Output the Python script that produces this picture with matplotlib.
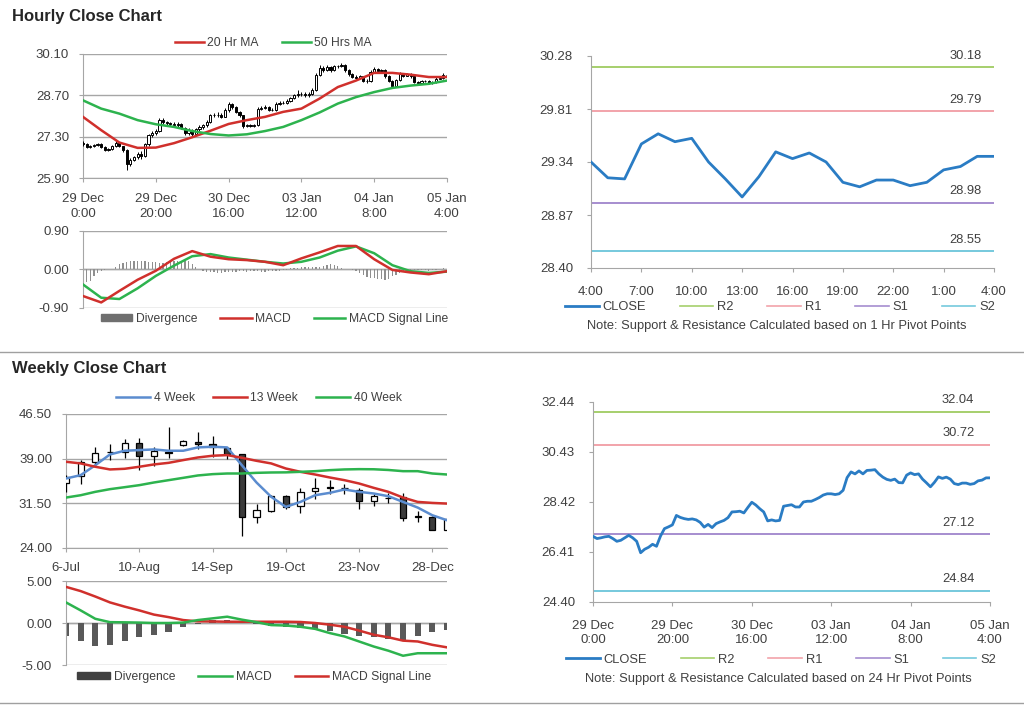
import numpy as np
import matplotlib
matplotlib.use("Agg")
import matplotlib.pyplot as plt
from matplotlib.lines import Line2D
from matplotlib.patches import Patch

plt.rcParams['font.family'] = ['Liberation Sans', 'DejaVu Sans']

# ---------------- hourly data (29 Dec 0:00 -> 05 Jan 4:00) ----------------
hourly_open = [27.10, 27.04, 26.95, 26.98, 27.02, 27.04, 26.95, 26.84, 26.88, 26.98,
               27.08, 26.98, 26.84, 26.38, 26.52, 26.60, 26.72, 26.64, 27.05, 27.35,
               27.42, 27.50, 27.88, 27.80, 27.75, 27.70, 27.74, 27.72, 27.60, 27.41,
               27.52, 27.39, 27.55, 27.62, 27.68, 27.79, 28.02, 28.03, 28.05, 27.98,
               28.20, 28.41, 28.30, 28.15, 28.02, 27.66, 27.70, 27.66, 27.68, 28.25,
               28.28, 28.31, 28.22, 28.22, 28.42, 28.45, 28.45, 28.52, 28.60, 28.70,
               28.75, 28.75, 28.72, 28.75, 28.89, 29.40, 29.63, 29.55, 29.67, 29.55,
               29.69, 29.70, 29.72, 29.55, 29.42, 29.33, 29.29, 29.34, 29.20, 29.19,
               29.50, 29.59, 29.52, 29.55, 29.34, 29.19, 29.03, 29.21, 29.43, 29.37,
               29.42, 29.34, 29.16, 29.12, 29.18, 29.18, 29.13, 29.16, 29.27, 29.30,
               29.39]
hourly_high = [27.14, 27.08, 27.03, 27.06, 27.08, 27.07, 26.99, 26.93, 27.02, 27.14,
               27.12, 27.00, 26.88, 26.58, 26.66, 26.78, 26.80, 27.10, 27.40, 27.48,
               27.56, 27.94, 27.92, 27.84, 27.80, 27.78, 27.78, 27.75, 27.64, 27.58,
               27.55, 27.60, 27.68, 27.74, 27.85, 28.08, 28.10, 28.12, 28.09, 28.26,
               28.48, 28.45, 28.34, 28.18, 28.05, 27.74, 27.73, 27.72, 28.32, 28.34,
               28.38, 28.35, 28.28, 28.48, 28.50, 28.52, 28.58, 28.66, 28.76, 28.88,
               28.82, 28.80, 28.80, 28.95, 29.46, 29.72, 29.68, 29.72, 29.70, 29.74,
               29.74, 29.78, 29.75, 29.58, 29.46, 29.38, 29.40, 29.37, 29.24, 29.56,
               29.66, 29.62, 29.60, 29.58, 29.38, 29.22, 29.26, 29.48, 29.46, 29.46,
               29.45, 29.37, 29.20, 29.22, 29.22, 29.21, 29.20, 29.31, 29.34, 29.46,
               29.45]
hourly_low = [26.98, 26.90, 26.92, 26.95, 26.97, 26.90, 26.80, 26.80, 26.85, 26.95,
              26.94, 26.78, 26.18, 26.30, 26.46, 26.55, 26.56, 26.60, 27.00, 27.30,
              27.36, 27.46, 27.74, 27.70, 27.66, 27.66, 27.64, 27.55, 27.35, 27.36,
              27.32, 27.35, 27.50, 27.57, 27.64, 27.75, 27.95, 27.98, 27.92, 27.95,
              28.15, 28.24, 28.10, 27.96, 27.60, 27.62, 27.62, 27.62, 27.65, 28.20,
              28.24, 28.16, 28.16, 28.18, 28.38, 28.40, 28.42, 28.48, 28.56, 28.66,
              28.68, 28.66, 28.66, 28.70, 28.85, 29.36, 29.50, 29.52, 29.50, 29.52,
              29.64, 29.66, 29.50, 29.36, 29.28, 29.24, 29.26, 29.15, 29.12, 29.16,
              29.46, 29.48, 29.48, 29.30, 29.14, 28.98, 29.00, 29.18, 29.32, 29.34,
              29.30, 29.12, 29.08, 29.10, 29.14, 29.10, 29.10, 29.13, 29.24, 29.27,
              29.35]
hourly_close = [27.04, 26.95, 26.98, 27.02, 27.04, 26.95, 26.84, 26.88, 26.98, 27.08,
                26.98, 26.84, 26.38, 26.52, 26.60, 26.72, 26.64, 27.05, 27.35, 27.42,
                27.50, 27.88, 27.80, 27.75, 27.72, 27.74, 27.70, 27.60, 27.41, 27.52,
                27.39, 27.55, 27.62, 27.68, 27.79, 28.02, 28.03, 28.05, 27.98, 28.20,
                28.41, 28.30, 28.15, 28.02, 27.66, 27.70, 27.66, 27.68, 28.25, 28.28,
                28.31, 28.22, 28.22, 28.42, 28.45, 28.45, 28.52, 28.60, 28.70, 28.75,
                28.75, 28.72, 28.75, 28.89, 29.40, 29.63, 29.55, 29.67, 29.55, 29.69,
                29.70, 29.72, 29.55, 29.42, 29.33, 29.29, 29.34, 29.20, 29.19, 29.50,
                29.59, 29.52, 29.55, 29.34, 29.19, 29.03, 29.21, 29.43, 29.37, 29.42,
                29.34, 29.16, 29.12, 29.18, 29.18, 29.13, 29.16, 29.27, 29.30, 29.39,
                29.39]
hourly_div = [-0.30, -0.30, -0.27, -0.16, -0.08, -0.04, -0.02, 0.00, 0.02, 0.06,
              0.12, 0.15, 0.18, 0.19, 0.20, 0.19, 0.20, 0.19, 0.18, 0.17,
              0.17, 0.16, 0.15, 0.17, 0.18, 0.19, 0.20, 0.21, 0.21, 0.20,
              0.12, 0.05, 0.02, -0.03, -0.05, -0.06, -0.07, -0.08, -0.08, -0.07,
              -0.06, -0.05, -0.05, -0.04, -0.04, -0.05, -0.04, -0.03, -0.04, -0.05,
              -0.05, -0.04, -0.04, -0.03, -0.03, -0.02, -0.01, 0.03, 0.04, 0.04,
              0.05, 0.06, 0.05, 0.06, 0.07, 0.06, 0.08, 0.11, 0.12, 0.10,
              0.08, 0.04, 0.01, 0.00, -0.01, -0.03, -0.08, -0.13, -0.17, -0.19,
              -0.21, -0.22, -0.23, -0.24, -0.22, -0.16, -0.12, -0.08, -0.05, -0.04,
              -0.03, -0.02, -0.02, -0.01, -0.02, -0.03, -0.02, -0.01, 0.02, 0.03,
              0.02]

# lines read every 5 hours
line_hours = [0, 5, 10, 15, 20, 25, 30, 35, 40, 45, 50, 55, 60, 65, 70, 75, 80, 85, 90, 95, 100]
ma_20hr = [27.97, 27.52, 27.10, 26.92, 26.93, 27.08, 27.28, 27.50, 27.73, 27.86, 27.97,
           28.14, 28.25, 28.59, 28.98, 29.20, 29.46, 29.46, 29.40, 29.32, 29.32]
ma_50hr = [28.53, 28.25, 28.08, 27.86, 27.72, 27.63, 27.49, 27.39, 27.34, 27.38, 27.49,
           27.63, 27.86, 28.12, 28.42, 28.64, 28.81, 28.95, 29.03, 29.09, 29.20]
macd_hourly = [-0.62, -0.77, -0.50, -0.24, -0.03, 0.25, 0.43, 0.30, 0.24, 0.22, 0.18,
               0.10, 0.26, 0.40, 0.55, 0.55, 0.24, -0.01, -0.07, -0.11, -0.04]
signal_hourly = [-0.35, -0.66, -0.69, -0.44, -0.15, 0.09, 0.31, 0.36, 0.28, 0.23, 0.18,
                 0.14, 0.18, 0.28, 0.44, 0.54, 0.38, 0.10, -0.04, -0.08, -0.05]

hourly_tick_hours = [0, 20, 40, 60, 80, 100]
hourly_tick_labels = ['29 Dec\n0:00', '29 Dec\n20:00', '30 Dec\n16:00',
                      '03 Jan\n12:00', '04 Jan\n8:00', '05 Jan\n4:00']
last_day_labels = ['4:00', '7:00', '10:00', '13:00', '16:00', '19:00', '22:00', '1:00', '4:00']

pivot_names = ['R2', 'R1', 'S1', 'S2']
pivot_1hr = [30.18, 29.79, 28.98, 28.55]
pivot_24hr = [32.04, 30.72, 27.12, 24.84]

# ---------------- weekly data (6-Jul -> 4-Jan) ----------------
week_open = [34.94, 36.06, 38.48, 40.20, 40.16, 41.67, 39.43, 40.05, 41.28, 41.84,
             41.45, 40.72, 39.77, 29.20, 30.20, 32.70, 31.01, 33.54, 34.20, 34.15,
             33.70, 31.85, 32.40, 32.60, 29.30, 29.20, 26.97]
week_high = [36.20, 38.76, 40.89, 41.45, 42.24, 42.40, 40.89, 44.37, 42.10, 43.53,
             42.80, 41.00, 39.77, 31.35, 32.90, 32.90, 34.00, 35.67, 35.50, 34.80,
             34.00, 33.15, 33.20, 33.26, 30.20, 29.30, 29.10]
week_low = [33.40, 34.83, 37.75, 38.76, 39.04, 37.10, 37.75, 39.04, 41.10, 40.55,
            39.30, 39.00, 25.96, 28.26, 30.05, 30.50, 29.95, 32.30, 33.10, 33.10,
            30.60, 31.00, 31.50, 28.50, 28.30, 26.97, 26.97]
week_close = [35.84, 38.48, 39.99, 40.12, 41.67, 39.43, 40.33, 39.95, 41.95, 41.45,
              40.89, 39.77, 29.20, 30.30, 32.70, 30.90, 33.43, 34.10, 34.12, 34.05,
              31.85, 32.70, 32.45, 29.05, 29.22, 26.97, 28.94]
ma_4wk = [35.67, 36.23, 37.90, 39.71, 40.33, 40.44, 40.55, 40.33, 40.33, 40.89,
          41.00, 40.89, 37.90, 35.00, 32.60, 30.90, 31.74, 32.86, 33.26, 33.82,
          33.43, 33.15, 32.70, 31.74, 30.79, 29.50, 28.66]
ma_13wk = [38.48, 38.20, 37.64, 37.19, 37.30, 37.64, 38.03, 38.30, 38.76, 39.20,
           39.49, 39.60, 39.15, 38.64, 38.20, 37.35, 36.79, 36.34, 35.84, 35.39,
           34.83, 34.10, 33.43, 32.47, 31.74, 31.57, 31.46]
ma_40wk = [32.47, 32.86, 33.43, 33.88, 34.21, 34.55, 35.00, 35.39, 35.78, 36.18,
           36.40, 36.51, 36.51, 36.62, 36.68, 36.70, 36.79, 36.90, 37.07, 37.19,
           37.24, 37.22, 37.10, 36.90, 36.90, 36.51, 36.34]
macd_weekly = [2.45, 1.50, 0.50, 0.10, 0.08, 0.05, 0.00, 0.00, 0.05, 0.35,
               0.55, 0.75, 0.40, 0.10, -0.25, -0.30, -0.45, -0.70, -1.20, -1.60,
               -2.20, -2.80, -3.30, -3.90, -3.60, -3.60, -3.60]
signal_weekly = [4.30, 3.80, 3.15, 2.45, 1.95, 1.50, 1.00, 0.70, 0.35, 0.20,
                 0.18, 0.15, 0.15, 0.15, 0.15, 0.15, 0.12, 0.00, -0.20, -0.45,
                 -0.90, -1.40, -1.70, -2.10, -2.20, -2.60, -2.90]
div_weekly = [-1.6, -2.2, -2.7, -2.6, -2.2, -1.7, -1.4, -1.1, -0.5, -0.1,
              0.3, 0.3, 0.1, -0.1, -0.4, -0.5, -0.6, -0.7, -1.0, -1.3,
              -1.5, -1.7, -1.9, -2.1, -1.5, -1.1, -0.8]
week_tick_idx = [0, 5, 10, 15, 20, 25]
week_tick_labels = ['6-Jul', '10-Aug', '14-Sep', '19-Oct', '23-Nov', '28-Dec']

# ---------------- style ----------------
TXT = '#404040'
GRID = '#a6a6a6'
RED = '#d0302c'
GREEN = '#2db34e'
BLUE4 = '#5b8ccf'
CLOSE_BLUE = '#2a7cc4'
PIVOT_COLORS = ['#a6cf6c', '#f2a3aa', '#a68dcf', '#76c9dd']
FS = 9.5
LFS = 8.7
RFS = 9.3

fig = plt.figure(figsize=(10.24, 7.06), dpi=100)


def px_axes(left, top, right, bottom):
    return fig.add_axes([left / 1024, 1 - bottom / 706, (right - left) / 1024, (bottom - top) / 706])


def style(ax, grid=True):
    ax.spines['top'].set_visible(False)
    ax.spines['right'].set_visible(False)
    ax.spines['left'].set_color(GRID)
    ax.spines['bottom'].set_color(GRID)
    ax.tick_params(colors=TXT, labelsize=FS, length=3, color=GRID)
    ax.tick_params(axis='y', pad=7)
    ax.tick_params(axis='x', pad=8)
    if grid:
        ax.yaxis.grid(True, color=GRID, lw=1)
        ax.set_axisbelow(True)


def candles(ax, x, o, h, l, c, width, lw, down_color):
    x = np.asarray(x)
    o, h, l, c = map(np.asarray, (o, h, l, c))
    ax.vlines(x, l, h, color='black', lw=lw, zorder=3)
    up = c >= o
    ax.bar(x[up], c[up] - o[up], width, bottom=o[up], color='white',
           edgecolor='black', lw=lw, zorder=4)
    ax.bar(x[~up], o[~up] - c[~up], width, bottom=c[~up], color=down_color,
           edgecolor='black', lw=lw, zorder=4)


def fmt_yticks(ax, ticks):
    ax.set_yticks(ticks)
    ax.set_yticklabels([f'{t:.2f}' for t in ticks])


hours = np.arange(len(hourly_close))
weeks = np.arange(len(week_close))

# ---------------- titles & separators ----------------
fig.text(12 / 1024, 1 - 16 / 706, 'Hourly Close Chart', fontsize=12, fontweight='bold',
         color='#262626', va='center')
fig.text(12 / 1024, 1 - 369 / 706, 'Weekly Close Chart', fontsize=12, fontweight='bold',
         color='#262626', va='center')
for yy in (352, 703):
    fig.add_artist(Line2D([0, 1], [1 - yy / 706] * 2, color='#a0a0a0', lw=1))

# ---------------- hourly candles ----------------
ax1 = px_axes(83, 54, 447, 178)
style(ax1)
candles(ax1, hours, hourly_open, hourly_high, hourly_low, hourly_close, 0.6, 0.7, 'black')
ax1.plot(line_hours, ma_20hr, color=RED, lw=1.8, zorder=5)
ax1.plot(line_hours, ma_50hr, color=GREEN, lw=1.8, zorder=5)
ax1.set_xlim(0, 100)
ax1.set_ylim(25.90, 30.10)
fmt_yticks(ax1, [25.90, 27.30, 28.70, 30.10])
ax1.set_xticks(hourly_tick_hours)
ax1.set_xticklabels(hourly_tick_labels, linespacing=1.25)
fig.legend([Line2D([], [], color=RED, lw=1.8), Line2D([], [], color=GREEN, lw=1.8)],
           ['20 Hr MA', '50 Hrs MA'], loc='center', bbox_to_anchor=(0.267, 1 - 43 / 706),
           ncol=2, frameon=False, fontsize=LFS, labelcolor=TXT, handlelength=2.4,
           handletextpad=0.3, columnspacing=1.9)

# ---------------- hourly MACD ----------------
ax2 = px_axes(83, 231, 447, 308)
style(ax2)
ax2.bar(hours, hourly_div, 0.35, color='#8f8f8f', zorder=2)
ax2.plot(line_hours, macd_hourly, color=RED, lw=1.8, zorder=4)
ax2.plot(line_hours, signal_hourly, color=GREEN, lw=1.8, zorder=3)
ax2.axhline(0, color=GRID, lw=1, zorder=1)
ax2.set_xlim(0, 100)
ax2.set_ylim(-0.90, 0.90)
fmt_yticks(ax2, [-0.90, 0.00, 0.90])
ax2.set_xticks([])
ax2.spines['bottom'].set_visible(False)
fig.legend([Patch(color='#6f6f6f'), Line2D([], [], color=RED, lw=1.8),
            Line2D([], [], color=GREEN, lw=1.8)],
           ['Divergence', 'MACD', 'MACD Signal Line'], loc='center',
           bbox_to_anchor=(0.268, 1 - 319 / 706), ncol=3, frameon=False, fontsize=LFS,
           labelcolor=TXT, handlelength=2.6, handleheight=0.5, handletextpad=0.3,
           columnspacing=1.9)

# ---------------- last 24 hours with 1 hr pivots ----------------
last_day = hourly_close[-25:]
ax3 = px_axes(591, 56, 994, 268)
style(ax3, grid=False)
handles = [Line2D([], [], color=CLOSE_BLUE, lw=2)]
for name, lvl, col in zip(pivot_names, pivot_1hr, PIVOT_COLORS):
    ax3.axhline(lvl, color=col, lw=1.4, zorder=2)
    ax3.annotate(f'{lvl:.2f}', xy=(0.93, lvl), xycoords=ax3.get_yaxis_transform(),
                 xytext=(0, 4), textcoords='offset points', ha='center', va='bottom',
                 fontsize=RFS, color=TXT)
    handles.append(Line2D([], [], color=col, lw=1.2))
ax3.plot(np.arange(len(last_day)), last_day, color=CLOSE_BLUE, lw=2, zorder=4)
ax3.set_xlim(0, 24)
ax3.set_ylim(28.40, 30.28)
fmt_yticks(ax3, [28.40, 28.87, 29.34, 29.81, 30.28])
ax3.set_xticks(np.arange(0, 25, 3))
ax3.set_xticklabels(last_day_labels)
ax3.tick_params(axis='x', pad=10)
ax3.tick_params(axis='y', pad=10)
fig.legend(handles, ['CLOSE'] + pivot_names, loc='center',
           bbox_to_anchor=(0.762, 1 - 307 / 706), ncol=5, frameon=False, fontsize=RFS,
           labelcolor=TXT, handlelength=2.6, handletextpad=0.3, columnspacing=2.6)
fig.text(0.759, 1 - 326 / 706, 'Note: Support & Resistance Calculated based on 1 Hr Pivot Points',
         ha='center', va='center', fontsize=RFS, color=TXT)

# ---------------- weekly candles ----------------
ax4 = px_axes(66, 414, 447, 548)
style(ax4)
candles(ax4, weeks, week_open, week_high, week_low, week_close, 0.42, 0.9, '#3a3a3a')
ax4.plot(weeks, ma_4wk, color=BLUE4, lw=1.8, zorder=5)
ax4.plot(weeks, ma_13wk, color=RED, lw=1.8, zorder=5)
ax4.plot(weeks, ma_40wk, color=GREEN, lw=1.8, zorder=5)
ax4.set_xlim(0, 26)
ax4.set_ylim(24.00, 46.50)
fmt_yticks(ax4, [24.00, 31.50, 39.00, 46.50])
ax4.set_xticks(week_tick_idx)
ax4.set_xticklabels(week_tick_labels)
ax4.tick_params(axis='x', pad=7)
fig.legend([Line2D([], [], color=c, lw=1.8) for c in (BLUE4, RED, GREEN)],
           ['4 Week', '13 Week', '40 Week'], loc='center',
           bbox_to_anchor=(0.253, 1 - 398 / 706), ncol=3, frameon=False, fontsize=LFS,
           labelcolor=TXT, handlelength=2.8, handletextpad=0.3, columnspacing=1.5)

# ---------------- weekly MACD ----------------
ax5 = px_axes(66, 581, 447, 665)
style(ax5)
ax5.bar(weeks, div_weekly, 0.42, color='#595959', zorder=2)
ax5.plot(weeks, macd_weekly, color=GREEN, lw=1.8, zorder=4)
ax5.plot(weeks, signal_weekly, color=RED, lw=1.8, zorder=3)
ax5.axhline(0, color=GRID, lw=1, zorder=1)
ax5.set_xlim(0, 26)
ax5.set_ylim(-5, 5)
fmt_yticks(ax5, [-5.00, 0.00, 5.00])
ax5.set_xticks([])
ax5.spines['bottom'].set_visible(False)
fig.legend([Patch(color='#404040'), Line2D([], [], color=GREEN, lw=1.8),
            Line2D([], [], color=RED, lw=1.8)],
           ['Divergence', 'MACD', 'MACD Signal Line'], loc='center',
           bbox_to_anchor=(0.248, 1 - 677 / 706), ncol=3, frameon=False, fontsize=LFS,
           labelcolor=TXT, handlelength=2.8, handleheight=0.5, handletextpad=0.3,
           columnspacing=1.9)

# ---------------- hourly close with 24 hr pivots ----------------
ax6 = px_axes(593, 402, 990, 602)
style(ax6, grid=False)
handles = [Line2D([], [], color=CLOSE_BLUE, lw=2)]
for name, lvl, col in zip(pivot_names, pivot_24hr, PIVOT_COLORS):
    ax6.axhline(lvl, color=col, lw=1.4, zorder=2)
    ax6.annotate(f'{lvl:.2f}', xy=(0.92, lvl), xycoords=ax6.get_yaxis_transform(),
                 xytext=(0, 4), textcoords='offset points', ha='center', va='bottom',
                 fontsize=RFS, color=TXT)
    handles.append(Line2D([], [], color=col, lw=1.2))
ax6.plot(hours, hourly_close, color=CLOSE_BLUE, lw=2, zorder=4)
ax6.set_xlim(0, 100)
ax6.set_ylim(24.40, 32.44)
fmt_yticks(ax6, [24.40, 26.41, 28.42, 30.43, 32.44])
ax6.set_xticks(hourly_tick_hours)
ax6.set_xticklabels(hourly_tick_labels, linespacing=1.25)
ax6.tick_params(axis='x', pad=10)
ax6.tick_params(axis='y', pad=10)
fig.legend(handles, ['CLOSE'] + pivot_names, loc='center',
           bbox_to_anchor=(0.763, 1 - 660 / 706), ncol=5, frameon=False, fontsize=RFS,
           labelcolor=TXT, handlelength=2.6, handletextpad=0.3, columnspacing=2.6)
fig.text(0.760, 1 - 679 / 706, 'Note: Support & Resistance Calculated based on 24 Hr Pivot Points',
         ha='center', va='center', fontsize=RFS, color=TXT)

fig.savefig('out.png', dpi=100, facecolor='white')
